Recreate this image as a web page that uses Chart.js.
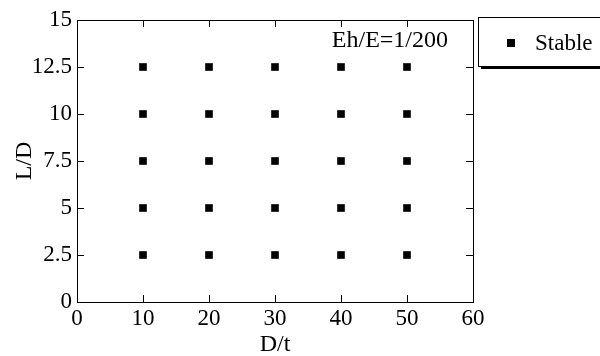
<!DOCTYPE html>
<html>
<head>
<meta charset="utf-8">
<script src="https://cdn.jsdelivr.net/npm/chart.js@4"></script>
<style>
  html, body { margin: 0; padding: 0; background: #fff; }
  #wrap { width: 600px; height: 356px; position: relative; }
</style>
</head>
<body>
<div id="wrap"><canvas id="grafico"></canvas></div>
<script>
// D/t and L/D for the stable cases
const stableDt = [10, 20, 30, 40, 50, 10, 20, 30, 40, 50, 10, 20, 30, 40, 50, 10, 20, 30, 40, 50, 10, 20, 30, 40, 50];
const stableLd = [2.5, 2.5, 2.5, 2.5, 2.5, 5, 5, 5, 5, 5, 7.5, 7.5, 7.5, 7.5, 7.5, 10, 10, 10, 10, 10, 12.5, 12.5, 12.5, 12.5, 12.5];
const xTickLabels = ['0', '10', '20', '30', '40', '50', '60'];
const yTickLabels = ['0', '2.5', '5', '7.5', '10', '12.5', '15'];
const serieNome = 'Stable';
const anotacao = 'Eh/E=1/200';

const fonte = "'Liberation Serif', 'Times New Roman', serif";

const moldura = {
    id: 'moldura',
    afterDraw(chart) {
        const { ctx, chartArea: a, scales: { x, y } } = chart;
        ctx.save();
        ctx.strokeStyle = '#000';
        ctx.lineWidth = 1;
        ctx.strokeRect(Math.round(a.left) + 0.5, Math.round(a.top) + 0.5, Math.round(a.right - a.left), Math.round(a.bottom - a.top));
        const tl = 7;
        ctx.beginPath();
        x.ticks.forEach(t => {
            const px = Math.round(x.getPixelForValue(t.value)) + 0.5;
            ctx.moveTo(px, a.bottom); ctx.lineTo(px, a.bottom - tl);
            ctx.moveTo(px, a.top); ctx.lineTo(px, a.top + tl);
        });
        y.ticks.forEach(t => {
            const py = Math.round(y.getPixelForValue(t.value)) + 0.5;
            ctx.moveTo(a.left, py); ctx.lineTo(a.left + tl, py);
            ctx.moveTo(a.right, py); ctx.lineTo(a.right - tl, py);
        });
        ctx.stroke();

        // anotação
        ctx.fillStyle = '#000';
        ctx.font = '24px ' + fonte;
        ctx.textAlign = 'right';
        ctx.textBaseline = 'alphabetic';
        ctx.fillText(anotacao, a.right - 25, a.top + 27);

        // legenda
        const lx = 478, ly = 17, lw = 126, lh = 49;
        ctx.fillStyle = '#fff';
        ctx.fillRect(lx, ly, lw, lh);
        ctx.strokeRect(lx + 0.5, ly + 0.5, lw, lh);
        ctx.fillStyle = '#000';
        ctx.fillRect(lx + 3, ly + lh, lw, 3);
        ctx.fillRect(lx + 29, ly + 22, 8, 8);
        ctx.font = '23px ' + fonte;
        ctx.textAlign = 'left';
        ctx.textBaseline = 'middle';
        ctx.fillText(serieNome, lx + 57, ly + 27);
        ctx.restore();
    }
};

new Chart(document.getElementById('grafico'), {
    type: 'scatter',
    data: {
        datasets: [{
            label: serieNome,
            data: stableDt.map((v, i) => ({ x: v, y: stableLd[i] })),
            pointStyle: 'rect',
            pointRadius: 5.4,
            pointHoverRadius: 5.4,
            backgroundColor: '#000',
            borderColor: '#000',
            borderWidth: 0
        }]
    },
    options: {
        responsive: true,
        maintainAspectRatio: false,
        animation: false,
        events: [],
        layout: { padding: { top: 20, right: 127, bottom: 0, left: 0 } },
        plugins: { legend: { display: false }, tooltip: { enabled: false } },
        scales: {
            x: {
                type: 'linear', min: 0, max: 60,
                afterFit: s => { s.height = 54; },
                border: { display: false },
                grid: { display: false, drawTicks: false },
                ticks: { stepSize: 10, padding: 3, color: '#000', font: { family: fonte, size: 23 }, maxRotation: 0,
                    callback: (v, i) => xTickLabels[i] },
                title: { display: true, text: 'D/t', color: '#000', font: { family: fonte, size: 24, lineHeight: 1 }, padding: { top: 0, bottom: -1 } }
            },
            y: {
                type: 'linear', min: 0, max: 15,
                afterFit: s => { s.width = 77; },
                border: { display: false },
                grid: { display: false, drawTicks: false },
                ticks: { stepSize: 2.5, padding: 5, color: '#000', font: { family: fonte, size: 23 },
                    callback: (v, i) => yTickLabels[i] },
                title: { display: true, text: 'L/D', color: '#000', font: { family: fonte, size: 24, lineHeight: 1 }, padding: { top: 13, bottom: 0 } }
            }
        }
    },
    plugins: [moldura]
});
</script>
</body>
</html>
